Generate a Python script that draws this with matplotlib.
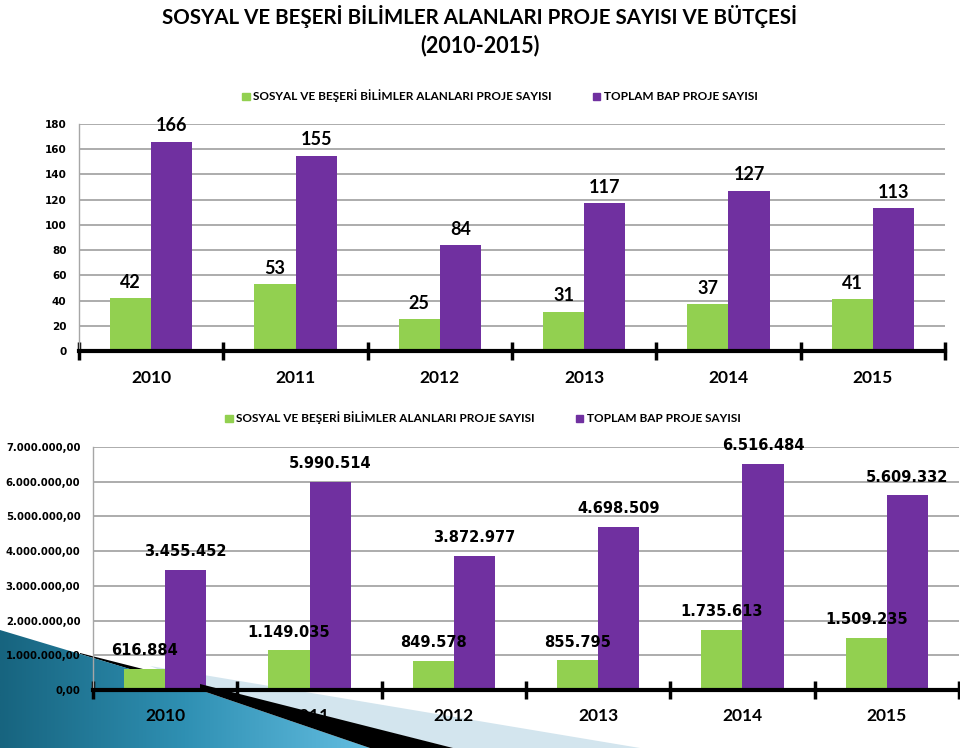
import matplotlib
matplotlib.use('Agg')
import matplotlib.pyplot as plt
import numpy as np
from matplotlib.patches import Polygon, Patch

# data
years = ['2010', '2011', '2012', '2013', '2014', '2015']
sosyal_sayi = [42, 53, 25, 31, 37, 41]
toplam_sayi = [166, 155, 84, 117, 127, 113]
sosyal_butce = [616884, 1149035, 849578, 855795, 1735613, 1509235]
toplam_butce = [3455452, 5990514, 3872977, 4698509, 6516484, 5609332]

label_sosyal = 'SOSYAL VE BEŞERİ BİLİMLER ALANLARI PROJE SAYISI'
label_toplam = 'TOPLAM BAP PROJE SAYISI'

GREEN = '#92d050'
PURPLE = '#7030a0'
GRID = '#a6a6a6'
LATO = ['Lato', 'DejaVu Sans']

W, H = 960, 748
fig = plt.figure(figsize=(W / 100, H / 100), dpi=100)


def px_rect(x0, y0, x1, y1):
    # pixel box (top-left origin) -> figure fraction rect
    return [x0 / W, 1 - y1 / H, (x1 - x0) / W, (y1 - y0) / H]


# background decoration (slide shapes bottom-left)
bg = fig.add_axes([0, 0, 1, 1], zorder=-2)
bg.set_xlim(0, W)
bg.set_ylim(H, 0)
bg.axis('off')
bg.add_patch(Polygon([(150, 666), (640, 748), (453, 748), (200, 686)],
                     closed=True, facecolor='#d3e5ee', edgecolor='none'))
bg.add_patch(Polygon([(80, 653), (202, 684), (202, 691), (80, 654)],
                     closed=True, facecolor='black', edgecolor='none'))
blue = Polygon([(0, 630), (200, 690), (370, 748), (0, 748)], closed=True,
               facecolor='none', edgecolor='none')
bg.add_patch(blue)
grad = np.linspace(0, 1, 256).reshape(1, -1)
cmap = matplotlib.colors.LinearSegmentedColormap.from_list('b', ['#17647f', '#2f90b3', '#63bde0'])
im = bg.imshow(grad, extent=(0, 370, 748, 630), cmap=cmap, aspect='auto', zorder=1)
im.set_clip_path(blue)

fg = fig.add_axes([0, 0, 1, 1], zorder=5)
fg.set_xlim(0, W)
fg.set_ylim(H, 0)
fg.axis('off')
fg.patch.set_alpha(0)
fg.add_patch(Polygon([(200, 684), (453, 748), (370, 748), (200, 690)],
                     closed=True, facecolor='black', edgecolor='none'))


def draw_panel(ax, a, b, ymax, step, tick_fmt, label_fmt, label_font, label_size,
               tick_size, year_pad, label_off):
    x = np.arange(len(years))
    w = 0.285
    ax.bar(x - w / 2, a, w, color=GREEN, zorder=2)
    ax.bar(x + w / 2, b, w, color=PURPLE, zorder=2)
    for xi, v in zip(x - w / 2, a):
        ax.annotate(label_fmt(v), (xi, v), xytext=(0, label_off), textcoords='offset points',
                    ha='center', va='center', fontsize=label_size, fontweight='bold',
                    family=label_font, zorder=4)
    for xi, v in zip(x + w / 2, b):
        ax.annotate(label_fmt(v), (xi, v), xytext=(0, label_off), textcoords='offset points',
                    ha='center', va='center', fontsize=label_size, fontweight='bold',
                    family=label_font, zorder=4)
    ax.set_xlim(-0.5, len(years) - 0.5)
    ax.set_ylim(0, ymax)
    ticks = np.arange(0, ymax + step / 2, step)
    ax.set_yticks(ticks)
    ax.set_yticklabels([tick_fmt(t) for t in ticks], fontsize=tick_size,
                       fontweight='bold', family='DejaVu Sans')
    ax.tick_params(axis='y', length=0, pad=9)
    ax.set_xticks(x)
    ax.set_xticklabels(years, fontsize=12.5, fontweight='bold', family=LATO)
    ax.set_xticks(np.arange(-0.5, len(years)), minor=True)
    ax.tick_params(axis='x', which='major', length=0, pad=year_pad)
    ax.tick_params(axis='x', which='minor', direction='inout', length=13, width=2.5,
                   color='black')
    ax.set_axisbelow(True)
    ax.yaxis.grid(True, color=GRID, lw=1.3)
    for s in ['top', 'right']:
        ax.spines[s].set_visible(False)
    ax.spines['left'].set_color(GRID)
    ax.spines['left'].set_linewidth(1)
    ax.spines['bottom'].set_color('black')
    ax.spines['bottom'].set_linewidth(3)
    ax.spines['bottom'].set_zorder(3)
    ax.patch.set_alpha(0)


ax1 = fig.add_axes(px_rect(79, 124, 945, 351))
draw_panel(ax1, sosyal_sayi, toplam_sayi, 180, 20, lambda t: f'{int(t)}',
           lambda v: f'{v}', LATO, 13, 7.5, 14, 11.5)

ax2 = fig.add_axes(px_rect(93, 447, 959, 690))


def tr_int(v):
    return f'{int(v):,}'.replace(',', '.')


draw_panel(ax2, sosyal_butce, toplam_butce, 7000000, 1000000,
           lambda t: tr_int(t) + ',00', tr_int, 'DejaVu Sans', 10.5, 7.3, 13, 13)

# titles
fig.text(0.5, 1 - 16 / H, 'SOSYAL VE BEŞERİ BİLİMLER ALANLARI PROJE SAYISI VE BÜTÇESİ',
         ha='center', va='center', fontsize=14.8, fontweight='bold', family=LATO)
fig.text(0.5, 1 - 46 / H, '(2010-2015)', ha='center', va='center', fontsize=15.5,
         fontweight='bold', family=LATO)

# legends
handles = [Patch(color=GREEN, label=label_sosyal), Patch(color=PURPLE, label=label_toplam)]
fig.legend(handles=handles, loc='center', bbox_to_anchor=(500 / W, 1 - 96 / H), ncol=2,
           frameon=False, handlelength=0.6, handleheight=0.6, handletextpad=0.3,
           columnspacing=3.5, prop={'family': LATO, 'weight': 'bold', 'size': 8.5})
fig.legend(handles=handles, loc='center', bbox_to_anchor=(483 / W, 1 - 418 / H), ncol=2,
           frameon=False, handlelength=0.6, handleheight=0.6, handletextpad=0.3,
           columnspacing=3.5, prop={'family': LATO, 'weight': 'bold', 'size': 8.5})

fig.savefig('out.png', dpi=100)
